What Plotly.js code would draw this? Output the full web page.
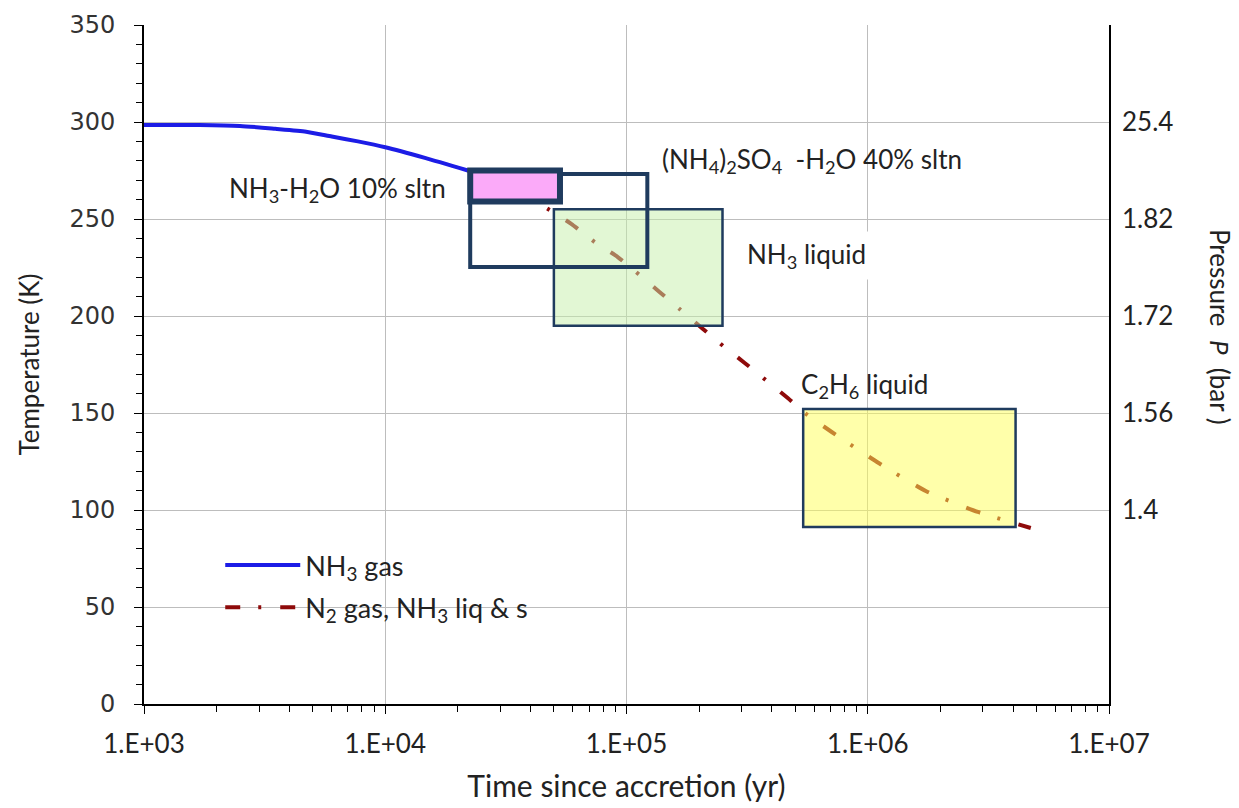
<!DOCTYPE html>
<html>
<head>
<meta charset="utf-8">
<script src="https://cdn.plot.ly/plotly-3.0.1.min.js"></script>
<style>html,body{margin:0;padding:0;background:#fff;}#chart{width:1239px;height:808px;}</style>
</head>
<body>
<div id="chart"></div>
<script>
// ---- data ----
const gasTime = [1000, 1700, 2500, 3500, 4700, 6000, 7700, 10000, 14600, 22000];
const gasTemp = [298.5, 298.5, 298, 296.5, 295, 292.5, 290, 287, 281.5, 275];

const n2Time = [22000, 44000, 59000, 74000, 92000, 137000, 168000, 252000, 309000, 466000, 542000, 709000, 1110000, 1740000, 2860000, 4740000];
const n2Temp = [275, 257.5, 247.5, 238, 230.4, 212.4, 203, 184.5, 175.8, 157.7, 150.5, 140.2, 124.2, 109.8, 99, 90.7];

// phase boxes: time range (yr) and temperature range (K)
const boxNames = ["NH3 liquid", "(NH4)2SO4-H2O 40% sltn", "NH3-H2O 10% sltn", "C2H6 liquid"];
const boxT0 = [50000, 22500, 22500, 540000];
const boxT1 = [250000, 122000, 53000, 4100000];
const boxK0 = [195, 225.3, 259, 91.2];
const boxK1 = [255, 273.2, 275, 152];

// axis ticks
const xTickVals = [1e3, 1e4, 1e5, 1e6, 1e7];
const xTickText = ["1.E+03", "1.E+04", "1.E+05", "1.E+06", "1.E+07"];
const pTickVals = [300, 250, 200, 150, 100];
const pTickText = ["25.4", "1.82", "1.72", "1.56", "1.4"];

// ---- styling ----
const boxFill = ["rgba(197,239,169,0.5)", "rgba(0,0,0,0)", "#fbaaf9", "rgba(255,255,85,0.5)"];
const boxLineW = [2.5, 4, 6, 2.5];
const boxLineC = "#1f3b5e";

const minorX = [];
for (let d = 3; d < 7; d++) for (let k = 2; k <= 9; k++) minorX.push(k * Math.pow(10, d));

const txtFont = "Lato, 'Open Sans', sans-serif";

const traces = [
  {x: gasTime, y: gasTemp, type: "scatter", mode: "lines", name: "NH<sub>3</sub> gas",
   line: {color: "#1c1ce6", width: 4, shape: "spline", smoothing: 0.6}, legendgroup: "a", hoverinfo: "skip"},
  {x: n2Time, y: n2Temp, type: "scatter", mode: "lines", name: "N<sub>2</sub> gas, NH<sub>3</sub> liq & s",
   line: {color: "#8e0a0a", width: 4, dash: "15px,18px,3px,19px", shape: "spline", smoothing: 0.5}, legendgroup: "b", hoverinfo: "skip"},
  {x: [1e3], y: [null], yaxis: "y2", type: "scatter", mode: "lines", showlegend: false, hoverinfo: "skip"}
];

const shapes = boxNames.map((n, i) => ({
  type: "rect", xref: "x", yref: "y", layer: "above",
  x0: boxT0[i], x1: boxT1[i], y0: boxK0[i], y1: boxK1[i],
  fillcolor: boxFill[i], line: {color: boxLineC, width: boxLineW[i]}
}));

const annFont = {family: txtFont, size: 26, color: "#222"};
const annotations = [
  {x: Math.log10(2200), y: 265, xref: "x", yref: "y", xanchor: "left", yanchor: "middle", showarrow: false,
   text: "NH<sub>3</sub>-H<sub>2</sub>O 10% sltn", font: annFont},
  {x: Math.log10(138000), y: 280.4, xref: "x", yref: "y", xanchor: "left", yanchor: "middle", showarrow: false,
   text: "(NH<sub>4</sub>)<sub>2</sub>SO<sub>4</sub>&nbsp; -H<sub>2</sub>O 40% sltn", font: annFont},
  {x: Math.log10(295000), y: 231, xref: "x", yref: "y", xanchor: "left", yanchor: "middle", showarrow: false,
   text: "NH<sub>3</sub> liquid", font: annFont, bgcolor: "#ffffff", borderpad: 6},
  {x: Math.log10(520000), y: 164.4, xref: "x", yref: "y", xanchor: "left", yanchor: "middle", showarrow: false,
   text: "C<sub>2</sub>H<sub>6</sub> liquid", font: annFont},
  {x: 1.1146, y: 0.556, xref: "paper", yref: "paper", xanchor: "center", yanchor: "middle", showarrow: false, textangle: 90,
   text: "Pressure&nbsp; <i>P</i>&nbsp; (bar )", font: {family: txtFont, size: 26, color: "#222"}}
];

const layout = {
  width: 1239, height: 808,
  margin: {l: 144, r: 130, t: 25, b: 104},
  paper_bgcolor: "#fff", plot_bgcolor: "#fff",
  showlegend: true,
  legend: {x: 0.079, y: 0.24, xanchor: "left", yanchor: "top", bgcolor: "rgba(0,0,0,0)",
           itemwidth: 75,
           font: {family: txtFont, size: 27, color: "#222"}, traceorder: "grouped", tracegroupgap: 4},
  xaxis: {
    type: "log", range: [3, 7],
    tickvals: xTickVals, ticktext: xTickText,
    ticks: "outside", ticklen: 8, tickcolor: "#000", tickwidth: 1,
    showline: true, linecolor: "#000", linewidth: 1.8,
    showgrid: true, gridcolor: "#bdbdbd", gridwidth: 1, zeroline: false,
    minor: {tickvals: minorX, ticks: "outside", ticklen: 6, tickcolor: "#000", showgrid: false},
    tickfont: {family: txtFont, size: 26, color: "#222"}, ticklabelstandoff: 8,
    title: {text: "Time since accretion (yr)", font: {family: txtFont, size: 30, color: "#222"}, standoff: 18}
  },
  yaxis: {
    range: [0, 350], dtick: 50, tick0: 0,
    ticks: "outside", ticklen: 8, tickcolor: "#000", tickwidth: 1,
    showline: true, linecolor: "#000", linewidth: 1.8,
    showgrid: true, gridcolor: "#bdbdbd", gridwidth: 1, zeroline: false,
    minor: {dtick: 10, ticks: "outside", ticklen: 6, tickcolor: "#000", showgrid: false},
    tickfont: {family: "'DejaVu Sans', sans-serif", size: 24, color: "#333"}, ticklabelstandoff: 14,
    title: {text: "Temperature (K)", font: {family: txtFont, size: 26, color: "#222"}, standoff: 22}
  },
  yaxis2: {
    overlaying: "y", side: "right", range: [0, 350],
    tickvals: pTickVals, ticktext: pTickText, ticks: "",
    showline: true, linecolor: "#000", linewidth: 1.8,
    showgrid: false, zeroline: false,
    tickfont: {family: txtFont, size: 26, color: "#222"}, ticklabelstandoff: 6
  },
  shapes: shapes,
  annotations: annotations
};

Plotly.newPlot("chart", traces, layout, {staticPlot: true, displayModeBar: false});
</script>
</body>
</html>
